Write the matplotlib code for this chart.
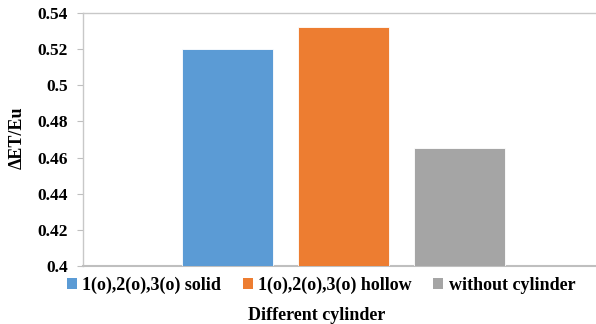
import matplotlib
matplotlib.use("Agg")
import matplotlib.pyplot as plt
from matplotlib.patches import Patch

series = ["1(o),2(o),3(o) solid", "1(o),2(o),3(o) hollow", "without cylinder"]
values = [0.520, 0.532, 0.4655]
colors = ["#5B9BD5", "#ED7D31", "#A5A5A5"]
yticks = [0.4, 0.42, 0.44, 0.46, 0.48, 0.5, 0.52, 0.54]
ytick_labels = ["0.4", "0.42", "0.44", "0.46", "0.48", "0.5", "0.52", "0.54"]

plt.rcParams['font.family'] = ['Liberation Serif', 'DejaVu Serif']
plt.rcParams['font.weight'] = 'bold'

fig = plt.figure(figsize=(5.96, 3.24), dpi=100)
ax = fig.add_axes([83/596, 1 - 266/324, (604 - 83)/596, (266 - 13)/324])

step = 0.2227
width = 0.175
for i, (v, c) in enumerate(zip(values, colors)):
    ax.bar((i - 1) * step, v - 0.4, bottom=0.4, width=width, color=c,
           edgecolor='white', linewidth=0.6, zorder=3)

ax.set_xlim(-0.5, 0.5)
ax.set_ylim(0.4, 0.54)
ax.set_yticks(yticks)
ax.set_yticklabels(ytick_labels, fontsize=12.5, fontweight='bold')
ax.set_xticks([])
for s in ax.spines.values():
    s.set_color('#C8C8C8')
    s.set_linewidth(1.0)
ax.spines['bottom'].set_color('#BFBFBF')
ax.spines['bottom'].set_linewidth(1.5)
ax.tick_params(axis='y', direction='out', length=4, color='#BFBFBF', pad=7)

fig.text(17/596, 1 - 138/324, "ΔET/Eu", rotation=90, ha='center', va='center',
         fontsize=13, fontweight='bold')

handles = [Patch(facecolor=c, edgecolor='none', label=s) for s, c in zip(series, colors)]
fig.legend(handles=handles, loc='center', bbox_to_anchor=(321/596, 1 - 285/324),
           ncol=3, frameon=False, handlelength=0.55, handleheight=0.55,
           handletextpad=0.3, columnspacing=1.2, prop={'weight': 'bold', 'size': 13})
fig.text(316.5/596, 1 - 315/324, "Different cylinder", ha='center', va='center',
         fontsize=13, fontweight='bold')

fig.savefig("out.png", dpi=100)
